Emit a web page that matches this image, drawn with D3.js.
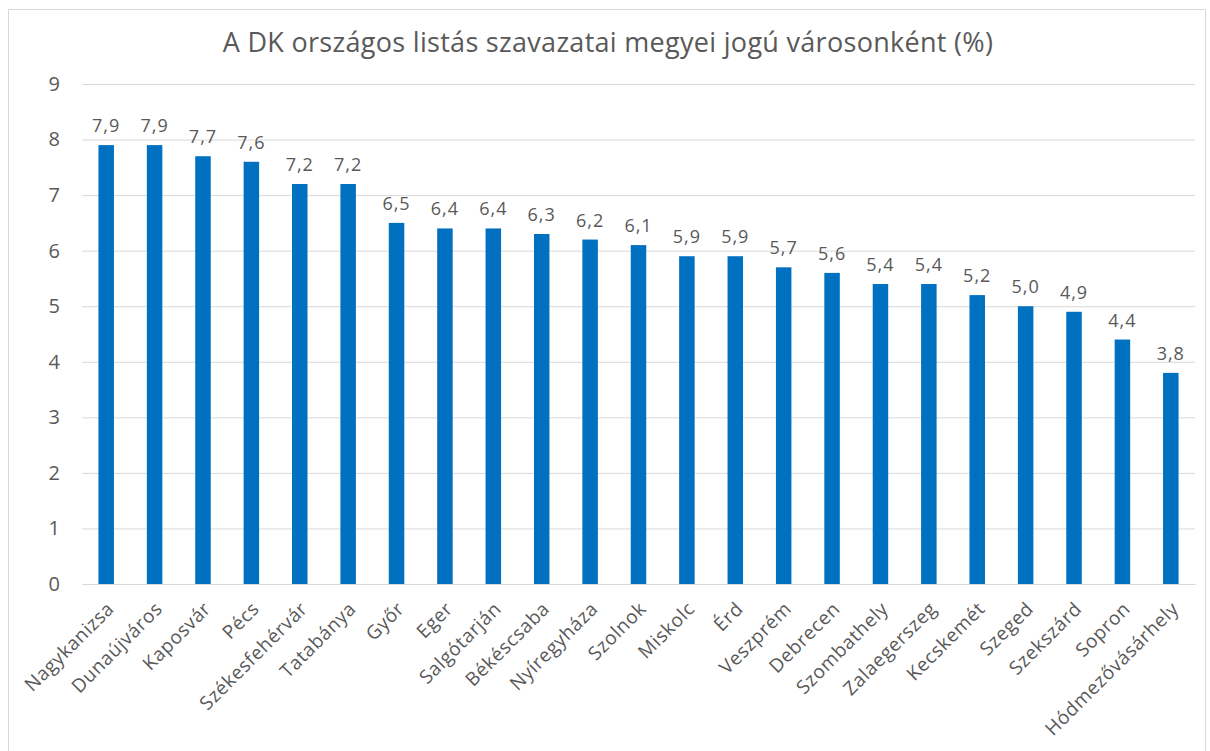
<!DOCTYPE html>
<html>
<head>
<meta charset="utf-8">
<script src="https://cdn.jsdelivr.net/npm/d3@7"></script>
<style>
  body { margin: 0; background: #fff; }
  text { font-family: "Open Sans", sans-serif; fill: #595959; }
</style>
</head>
<body>
<svg></svg>
<script>
// városok és a DK listás szavazatai (%)
const cities = ["Nagykanizsa", "Dunaújváros", "Kaposvár", "Pécs", "Székesfehérvár", "Tatabánya",
  "Győr", "Eger", "Salgótarján", "Békéscsaba", "Nyíregyháza", "Szolnok", "Miskolc", "Érd",
  "Veszprém", "Debrecen", "Szombathely", "Zalaegerszeg", "Kecskemét", "Szeged", "Szekszárd",
  "Sopron", "Hódmezővásárhely"];
const votes = [7.9, 7.9, 7.7, 7.6, 7.2, 7.2, 6.5, 6.4, 6.4, 6.3, 6.2, 6.1, 5.9, 5.9,
  5.7, 5.6, 5.4, 5.4, 5.2, 5.0, 4.9, 4.4, 3.8];
const yTicks = [0, 1, 2, 3, 4, 5, 6, 7, 8, 9];

const WIDTH = 1210;
const HEIGHT = 751;
const LEFT = 82, RIGHT = 1195, TOP = 84, BOTTOM = 584;

let svg = d3.select('svg').attr('width', WIDTH).attr('height', HEIGHT);

// keret
svg.append('rect')
  .attr('x', 8.5).attr('y', 9.5).attr('width', 1197).attr('height', 760)
  .style('fill', '#fff').style('stroke', '#d9d9d9');

svg.append('text')
  .attr('x', 608).attr('y', 52)
  .attr('text-anchor', 'middle')
  .style('font-size', '27px')
  .style('letter-spacing', '0.3px')
  .text('A DK országos listás szavazatai megyei jogú városonként (%)');

let xScale = d3.scaleBand().domain(cities).range([LEFT, RIGHT]).paddingInner(0.68).paddingOuter(0.34);
let yScale = d3.scaleLinear().domain([0, 9]).range([BOTTOM, TOP]);

// rácsvonalak + y tengely
let yAxis = svg.append('g')
  .attr('transform', `translate(${LEFT},0)`)
  .call(d3.axisLeft(yScale).tickValues(yTicks).tickSize(-(RIGHT - LEFT)).tickPadding(22).tickFormat(d3.format('d')));
yAxis.select('.domain').remove();
yAxis.selectAll('line').style('stroke', '#d9d9d9');
yAxis.selectAll('text').style('font-size', '20px').style('fill', '#595959');

svg.selectAll('.bar')
  .data(votes)
  .enter().append('rect')
  .attr('class', 'bar')
  .attr('x', (d, i) => xScale(cities[i]))
  .attr('y', d => yScale(d))
  .attr('width', xScale.bandwidth())
  .attr('height', d => BOTTOM - yScale(d))
  .style('fill', '#0070c0');

svg.selectAll('.val')
  .data(votes)
  .enter().append('text')
  .attr('class', 'val')
  .attr('x', (d, i) => xScale(cities[i]) + xScale.bandwidth() / 2)
  .attr('y', d => yScale(d) - 13)
  .attr('text-anchor', 'middle')
  .style('font-size', '18px')
  .style('letter-spacing', '1px')
  .text(d => d3.format('.1f')(d).replace('.', ','));

// x tengely feliratai 45 fokban
let xAxis = svg.append('g')
  .attr('transform', `translate(0,${BOTTOM})`)
  .call(d3.axisBottom(xScale).tickSize(0).tickPadding(0));
xAxis.select('.domain').style('stroke', '#d9d9d9');
xAxis.selectAll('text')
  .style('font-size', '19px')
  .style('letter-spacing', '0.6px')
  .style('fill', '#595959')
  .attr('text-anchor', 'end')
  .attr('dy', null)
  .attr('transform', 'translate(9,26) rotate(-45)');
</script>
</body>
</html>
